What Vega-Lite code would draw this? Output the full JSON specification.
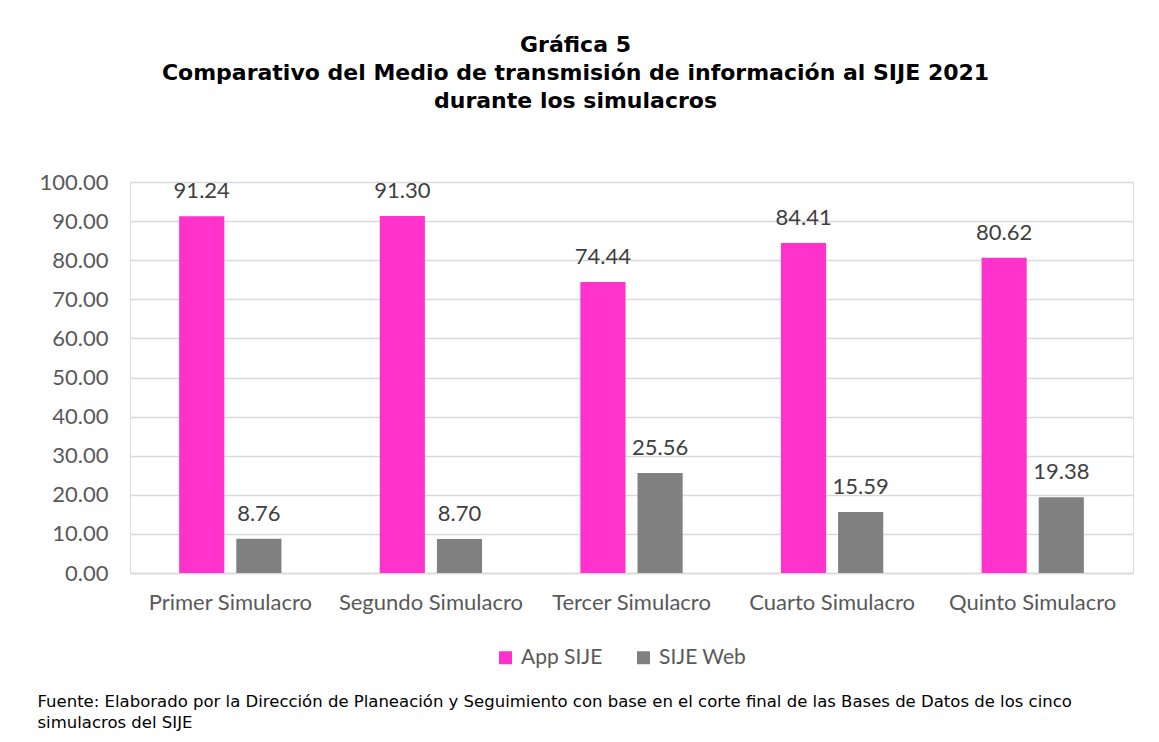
{
  "$schema": "https://vega.github.io/schema/vega-lite/v6.json",
  "width": 1003,
  "height": 391,
  "autosize": {"type": "none"},
  "padding": {"left": 130, "top": 182, "right": 26, "bottom": 169},
  "background": "white",
  "title": {
    "text": ["Gráfica 5", "Comparativo del Medio de transmisión de información al SIJE 2021", "durante los simulacros"],
    "font": "DejaVu Sans",
    "fontSize": 22,
    "fontWeight": "bold",
    "color": "black",
    "anchor": "middle",
    "frame": "group",
    "dx": -56,
    "lineHeight": 28,
    "offset": 58
  },
  "data": {
    "values": [
      {"simulacro": "Primer Simulacro", "medio": "App SIJE", "valor": 91.24},
      {"simulacro": "Primer Simulacro", "medio": "SIJE Web", "valor": 8.76},
      {"simulacro": "Segundo Simulacro", "medio": "App SIJE", "valor": 91.30},
      {"simulacro": "Segundo Simulacro", "medio": "SIJE Web", "valor": 8.70},
      {"simulacro": "Tercer Simulacro", "medio": "App SIJE", "valor": 74.44},
      {"simulacro": "Tercer Simulacro", "medio": "SIJE Web", "valor": 25.56},
      {"simulacro": "Cuarto Simulacro", "medio": "App SIJE", "valor": 84.41},
      {"simulacro": "Cuarto Simulacro", "medio": "SIJE Web", "valor": 15.59},
      {"simulacro": "Quinto Simulacro", "medio": "App SIJE", "valor": 80.62},
      {"simulacro": "Quinto Simulacro", "medio": "SIJE Web", "valor": 19.38}
    ]
  },
  "encoding": {
    "x": {
      "field": "simulacro",
      "type": "nominal",
      "sort": null,
      "scale": {"paddingInner": 0.49, "paddingOuter": 0.245},
      "axis": {
        "title": ["Fuente: Elaborado por la Dirección de Planeación y Seguimiento con base en el corte final de las Bases de Datos de los cinco", "simulacros del SIJE"],
        "titleFont": "DejaVu Sans",
        "titleFontSize": 16.5,
        "titleFontWeight": "normal",
        "titleColor": "black",
        "titleAnchor": "start",
        "titleAlign": "left",
        "titleBaseline": "alphabetic",
        "titleX": -93,
        "titleY": 133,
        "titleLineHeight": 21,
        "labelAngle": 0,
        "labelFont": "Lato",
        "labelFontSize": 22,
        "labelColor": "#595959",
        "labelPadding": 19,
        "labelLimit": 0,
        "ticks": false,
        "domainColor": "#d9d9d9",
        "domainWidth": 1.5
      }
    },
    "xOffset": {"field": "medio", "sort": null, "scale": {"paddingInner": 0.21, "paddingOuter": 0}},
    "y": {
      "field": "valor",
      "type": "quantitative",
      "scale": {"domain": [0, 100], "nice": false},
      "axis": {
        "title": null,
        "values": [0, 10, 20, 30, 40, 50, 60, 70, 80, 90, 100],
        "format": ".2f",
        "labelFont": "Lato",
        "labelFontSize": 22,
        "labelColor": "#595959",
        "labelPadding": 22,
        "ticks": false,
        "domain": false,
        "gridColor": "#d9d9d9",
        "gridWidth": 1.5
      }
    }
  },
  "layer": [
    {
      "mark": {"type": "bar"},
      "encoding": {
        "color": {
          "field": "medio",
          "type": "nominal",
          "scale": {"domain": ["App SIJE", "SIJE Web"], "range": ["#FF33CC", "#808080"]},
          "legend": {
            "title": null,
            "orient": "none",
            "legendX": 365,
            "legendY": 465,
            "direction": "horizontal",
            "symbolType": "square",
            "symbolSize": 169,
            "symbolStrokeWidth": 0,
            "labelFont": "Lato",
            "labelFontSize": 21,
            "labelColor": "#595959",
            "labelOffset": 5,
            "columnPadding": 30,
            "padding": 0
          }
        }
      }
    },
    {
      "mark": {"type": "text", "baseline": "alphabetic", "dy": -18, "font": "Lato", "fontSize": 22, "color": "#404040"},
      "encoding": {
        "text": {"field": "valor", "type": "quantitative", "format": ".2f"}
      }
    }
  ]
}
